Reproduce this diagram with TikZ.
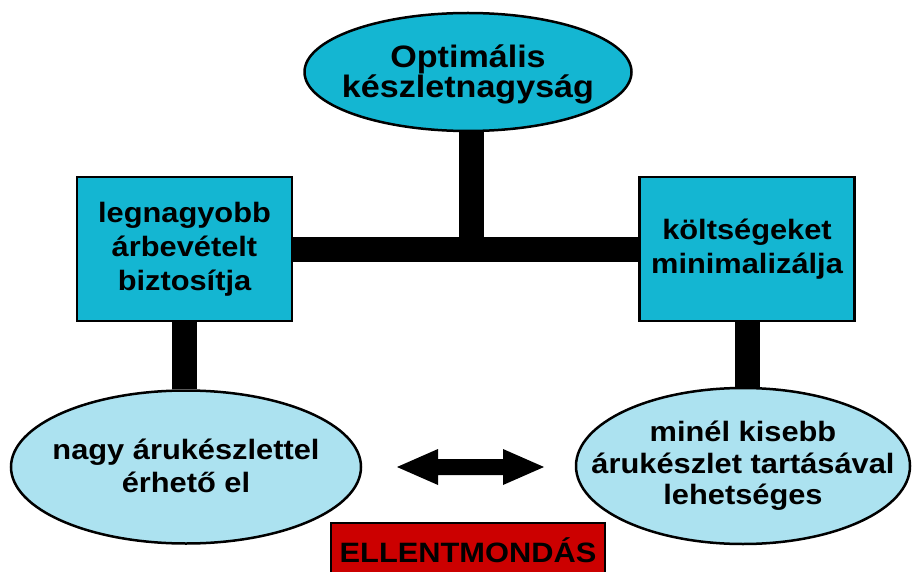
\documentclass[tikz,border=0pt]{standalone}
\usepackage{fontspec}
\setmainfont{Liberation Sans}[FakeStretch=1.1]
\usetikzlibrary{shapes.geometric}
\definecolor{cyanbox}{RGB}{20,182,210}
\definecolor{lightblue}{RGB}{172,226,240}
\definecolor{redbox}{RGB}{204,0,0}
\begin{document}
\begin{tikzpicture}[x=1pt,y=-1pt,
  lbl/.style={font=\bfseries\fontsize{28}{33}\selectfont, align=center, text=black},
  toplbl/.style={lbl, font=\bfseries\fontsize{31}{30}\selectfont},
  lowlbl/.style={lbl, font=\bfseries\fontsize{28}{33}\selectfont},
  rlbl/.style={lbl, font=\bfseries\fontsize{28}{31.5}\selectfont},
  topell/.style={ellipse, draw=black, line width=2.5pt, fill=cyanbox, inner sep=0pt},
  lowell/.style={ellipse, draw=black, line width=2.5pt, fill=lightblue, inner sep=0pt},
  cbox/.style={rectangle, draw=black, line width=2.5pt, fill=cyanbox, minimum width=215pt,
     minimum height=144pt, inner sep=0pt, lbl, font=\bfseries\fontsize{28}{34}\selectfont},
  link/.style={draw=black, line width=25pt},
  warn/.style={rectangle, draw=black, line width=2pt, fill=redbox, inner sep=0pt,
     minimum width=274pt, text height=39pt, text depth=28pt, lbl}
]
\useasboundingbox (0,0) rectangle (918,572);
\fill[white] (0,0) rectangle (918,572);

\node[topell, minimum width=327pt, minimum height=118pt,
  label={[toplbl, yshift=-2pt]center:Optimális\\készletnagyság}] (T) at (468,72) {};
\node[cbox] (L) at (184.5,249) {legnagyobb\\árbevételt\\biztosítja};
\node[cbox] (R) at (747,249) {költségeket\\minimalizálja};
\node[lowell, minimum width=350pt, minimum height=153pt,
  label={[lowlbl, yshift=1pt]center:nagy árukészlettel\\érhető el}] (BL) at (186,467) {};
\node[lowell, minimum width=334pt, minimum height=156pt,
  label={[rlbl]center:minél kisebb\\árukészlet tartásával\\lehetséges}] (BR) at (743,466) {};
\node[warn, anchor=north] (E) at (468,522) {ELLENTMONDÁS};

\coordinate (J) at (471,249);
\coordinate (A) at (470.5,467);

\path[link] (L.east) -- (R.west);
\path[link] (T.south -| J) -- (J);
\path[link] (L.south) -- (L.south |- BL.north);
\path[link] (R.south) -- (R.south |- BR.north);

\fill[black] (A) ++(-73.5,0) -- ++(41,-18) -- ++(0,10) -- ++(65,0) -- ++(0,-10)
  -- ++(41,18) -- ++(-41,18) -- ++(0,-10) -- ++(-65,0) -- ++(0,10) -- cycle;
\end{tikzpicture}
\end{document}
